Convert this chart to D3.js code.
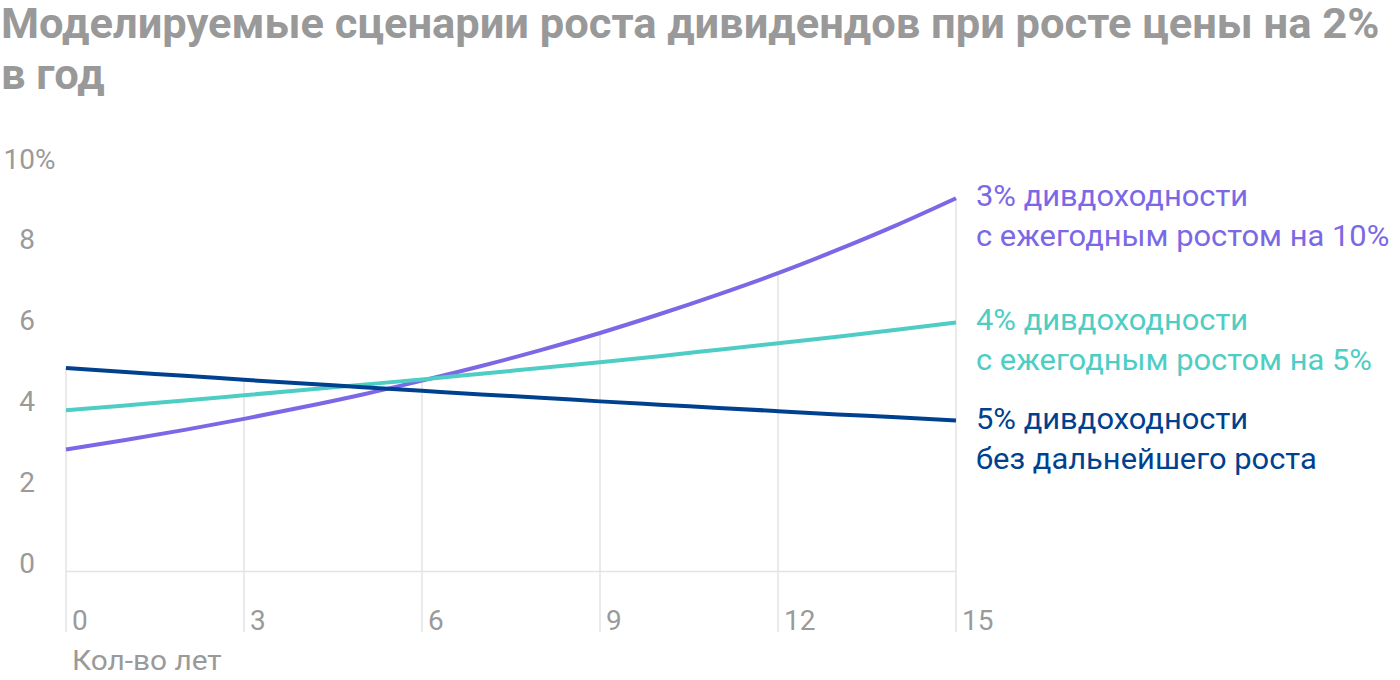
<!DOCTYPE html>
<html>
<head>
<meta charset="utf-8">
<script src="https://cdn.jsdelivr.net/npm/d3@7"></script>
<style>
  html, body { margin: 0; padding: 0; background: #fff; }
  svg { display: block; }
  text { font-family: Roboto, "Noto Sans", sans-serif; }
</style>
</head>
<body>
<svg id="chart" width="1400" height="680"></svg>
<script>
const years = [0,1,2,3,4,5,6,7,8,9,10,11,12,13,14,15];
const growth10 = [3.00,3.23,3.48,3.75,4.04,4.35,4.69,5.05,5.44,5.86,6.32,6.81,7.33,7.90,8.51,9.17];
const growth5  = [3.96,4.08,4.20,4.33,4.46,4.59,4.72,4.86,5.00,5.14,5.29,5.45,5.61,5.77,5.94,6.12];
const noGrowth = [5.00,4.90,4.81,4.71,4.62,4.53,4.44,4.35,4.27,4.18,4.10,4.02,3.94,3.86,3.79,3.71];
const seriesLabels = [
  ["3% дивдоходности", "с ежегодным ростом на 10%"],
  ["4% дивдоходности", "с ежегодным ростом на 5%"],
  ["5% дивдоходности", "без дальнейшего роста"]
];
const seriesColors = ["#7b68e6", "#4ecdc4", "#00418f"];
const xTicks = [0,3,6,9,12,15];
const yTicks = [0,2,4,6,8,10];
const titleLines = ["Моделируемые сценарии роста дивидендов при росте цены на 2%", "в год"];
const xAxisTitle = "Кол-во лет";

const series = [growth10, growth5, noGrowth];
const svg = d3.select("#chart");

function stretch(sel, factor) {
  sel.each(function() {
    const w = this.getComputedTextLength();
    d3.select(this).attr("textLength", w * factor).attr("lengthAdjust", "spacingAndGlyphs");
  });
}

const x = d3.scaleLinear().domain([0, 15]).range([66, 956]);
const y = d3.scaleLinear().domain([0, 10]).range([571.5, 164.5]);
const gridBottom = 632;

// Title
const title = svg.append("g").selectAll("text").data(titleLines).join("text")
  .attr("x", 1).attr("y", (d, i) => 38 + i * 51)
  .attr("font-size", 42).attr("font-weight", 700).attr("fill", "#999")
  .text(d => d);
stretch(title, 1.035);

// vertical gridlines from top series value down
const grid = svg.append("g");
grid.selectAll("line").data(xTicks).join("line")
  .attr("x1", d => x(d)).attr("x2", d => x(d))
  .attr("y1", d => y(d3.max(series, s => s[years.indexOf(d)])))
  .attr("y2", gridBottom)
  .attr("stroke", "#e3e3e3").attr("stroke-width", 1.5);

// baseline
svg.append("line")
  .attr("x1", x(0)).attr("x2", x(15)).attr("y1", y(0)).attr("y2", y(0))
  .attr("stroke", "#e3e3e3").attr("stroke-width", 1.5);

// y tick labels
const yg = svg.append("g");
yTicks.forEach(v => {
  yg.append("text").attr("x", 35).attr("y", y(v) + 1 + (v / 10) * 3)
    .attr("text-anchor", "end").attr("font-size", 28).attr("fill", "#9a9a9a")
    .text(v);
  if (v === 10) {
    yg.append("text").attr("x", 35).attr("y", y(v) + 4)
      .attr("font-size", 28).attr("fill", "#9a9a9a").text("%");
  }
});

// x tick labels
svg.append("g").selectAll("text").data(xTicks).join("text")
  .attr("x", d => x(d) + 6).attr("y", 630)
  .attr("font-size", 28).attr("fill", "#9a9a9a")
  .text(d => d);

const xt = svg.append("text").attr("x", 72).attr("y", 670)
  .attr("font-size", 28).attr("fill", "#9a9a9a").text(xAxisTitle);
stretch(xt, 1.065);

// lines
const line = d3.line().x((d, i) => x(years[i])).y(d => y(d)).curve(d3.curveMonotoneX);
svg.append("g").selectAll("path").data(series).join("path")
  .attr("d", d => line(d))
  .attr("fill", "none")
  .attr("stroke", (d, i) => seriesColors[i])
  .attr("stroke-width", 4)
  .attr("stroke-linecap", "butt");

// right labels
series.forEach((s, i) => {
  const yy = y(s[s.length - 1]) + 8;
  seriesLabels[i].forEach((ln, j) => {
    const t = svg.append("text").attr("font-size", 29).attr("fill", seriesColors[i])
      .attr("x", 976).attr("y", yy + j * 40).text(ln);
    stretch(t, 1.065);
  });
});
</script>
</body>
</html>
